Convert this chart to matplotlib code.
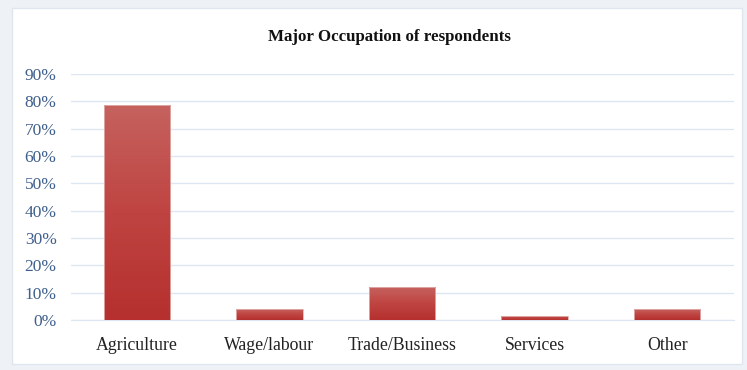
import matplotlib.pyplot as plt
import numpy as np
from matplotlib.patches import Rectangle
from matplotlib.colors import LinearSegmentedColormap

categories = ['Agriculture', 'Wage/labour', 'Trade/Business', 'Services', 'Other']
shares = [78.5, 4, 12, 1.5, 4]
yticks = [0, 10, 20, 30, 40, 50, 60, 70, 80, 90]

plt.rcParams['font.family'] = ['Liberation Serif', 'DejaVu Serif']

fig = plt.figure(figsize=(7.47, 3.70), dpi=100)
fig.patch.set_facecolor('#eef1f5')

# white chart panel behind the axes
panel = Rectangle((12 / 747, 6 / 370), 730 / 747, 356 / 370, transform=fig.transFigure,
                  facecolor='white', edgecolor='#dfe6f0', linewidth=1.0, zorder=-1)
fig.patches.append(panel)

ax = fig.add_axes([70.5 / 747, 1 - 320 / 370, 663 / 747, 246 / 370])
ax.set_facecolor('none')
ax.set_zorder(2)

x = np.arange(len(categories))
bars = ax.bar(x, shares, width=0.5, color='#bf3d3b', zorder=2)

# vertical gradient, lighter at the top of each bar
grad = np.linspace(0, 1, 256).reshape(-1, 1)
cmap = LinearSegmentedColormap.from_list('bar', ['#b5302f', '#bf4441', '#c5625f'])
for b in bars:
    x0, y0 = b.get_x(), b.get_y()
    w, h = b.get_width(), b.get_height()
    im = ax.imshow(grad, cmap=cmap, origin='lower', aspect='auto',
                   extent=[x0, x0 + w, y0, y0 + h], zorder=3)
    im.set_clip_path(b)
    b.set_facecolor('none')
    b.set_edgecolor('#e2b0ae')
    b.set_linewidth(0.6)
    b.set_zorder(4)

ax.set_xlim(-0.5, len(categories) - 0.5)
ax.set_ylim(0, 90)
ax.set_yticks(yticks)
ax.set_yticklabels([f'{v}%' for v in yticks], color='#3f5f8c', fontsize=12.5)
ax.set_xticks(x)
ax.set_xticklabels(categories, color='#222222', fontsize=12.8)
ax.tick_params(axis='y', length=0, pad=10)
ax.tick_params(axis='x', length=0, pad=12)
ax.grid(axis='y', color='#dde6f2', linewidth=1.0, zorder=1)
for side in ['top', 'right', 'left']:
    ax.spines[side].set_visible(False)
ax.spines['bottom'].set_color('#dde6f2')

fig.text(389 / 747, 1 - 37 / 370, 'Major Occupation of respondents', ha='center', va='center',
         fontsize=12.2, fontweight='bold', color='#111111')

fig.savefig('out.png', dpi=100, facecolor=fig.get_facecolor())
